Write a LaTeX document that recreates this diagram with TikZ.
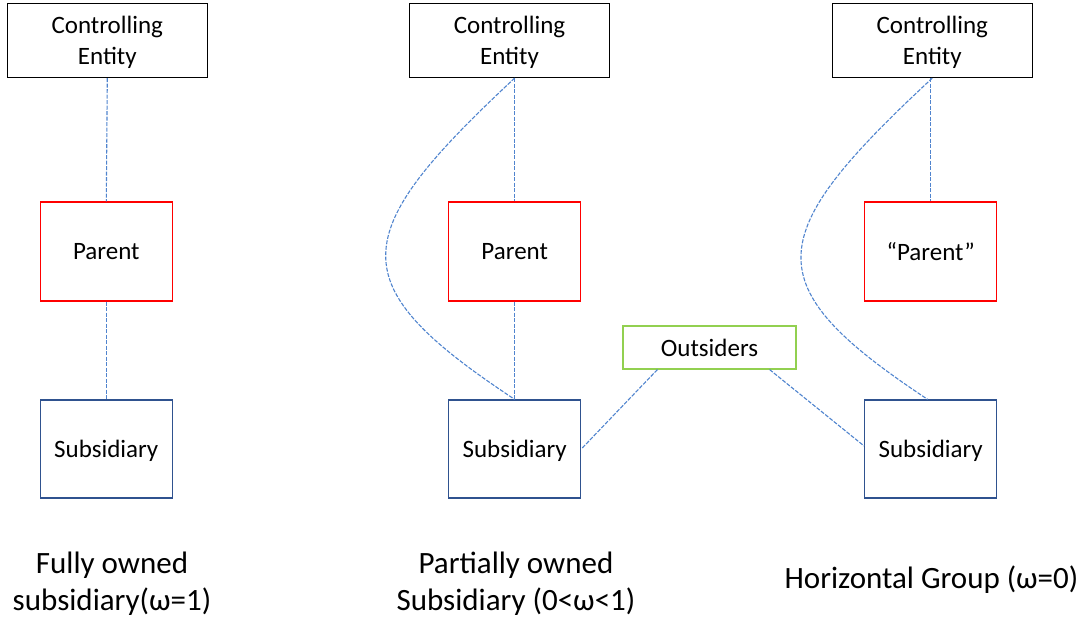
\documentclass[tikz,border=0pt]{standalone}
\usepackage{fontspec}
\setmainfont{Carlito}
\definecolor{linkblue}{RGB}{80,132,206}
\definecolor{subblue}{RGB}{47,82,143}
\definecolor{outgreen}{RGB}{146,208,80}
\begin{document}
\begin{tikzpicture}[x=1pt, y=-1pt,
    entity/.style={draw=black, line width=1.2pt, minimum width=200pt, minimum height=74pt, align=center, text depth=0pt, font=\fontsize{25}{31}\selectfont},
    parentbox/.style={draw=red, line width=1.2pt, minimum width=132pt, minimum height=99pt, text depth=0pt, font=\fontsize{25}{31}\selectfont},
    subbox/.style={draw=subblue, line width=1.2pt, minimum width=132pt, minimum height=98pt, text depth=0pt, font=\fontsize{25}{31}\selectfont},
    outbox/.style={draw=outgreen, line width=1.2pt, minimum width=173pt, minimum height=43pt, text depth=0pt, font=\fontsize{25}{31}\selectfont},
    link/.style={draw=linkblue, line width=1.1pt, dash pattern=on 4pt off 1.5pt},
    caption/.style={align=center, inner sep=0pt, font=\fontsize{31}{37}\selectfont}]
            \useasboundingbox (0, 0) rectangle (1088, 617);
            %\draw[lightgray] (0, 0) grid[step=50] (1088, 617);
            % fully owned
            \node[entity] (ce-left) at (107.3, 40.5) {Controlling\\Entity};
            \node[parentbox] (parent-left) at (106.3, 251.5) {Parent};
            \node[subbox] (sub-left) at (106.3, 449) {Subsidiary};
            % partially owned
            \node[entity] (ce-mid) at (509.5, 40.5) {Controlling\\Entity};
            \node[parentbox] (parent-mid) at (514.7, 251.5) {Parent};
            \node[subbox] (sub-mid) at (514.7, 449) {Subsidiary};
            % outsiders
            \node[outbox] (outsiders) at (709.5, 347.5) {Outsiders};
            % horizontal group
            \node[entity] (ce-right) at (932.3, 40.5) {Controlling\\Entity};
            \node[parentbox] (parent-right) at (930.7, 251.5) {“Parent”};
            \node[subbox] (sub-right) at (930.7, 449) {Subsidiary};
            % captions
            \node[caption] (cap-left) at (112, 584) {Fully owned\\subsidiary(ω=1)};
            \node[caption] (cap-mid) at (516, 584) {Partially owned\\Subsidiary (0<ω<1)};
            \node[caption, anchor=base] (cap-right) at (931.5, 589) {Horizontal Group (ω=0)};
            % links
            \coordinate (top-mid) at (parent-mid.north |- ce-mid.south);
            \coordinate (top-right) at (parent-right.north |- ce-right.south);
            \draw[link] (ce-left.south) -- (parent-left.north);
            \draw[link] (parent-left.south) -- (sub-left.north);
            \draw[link] (top-mid) -- (parent-mid.north);
            \draw[link] (parent-mid.south) -- (sub-mid.north);
            \draw[link] (top-mid) .. controls +(-170, 158) and +(-174, -115) .. (sub-mid.north);
            \draw[link] (top-right) -- (parent-right.north);
            \draw[link] (ce-right.south) .. controls +(-170, 158) and +(-174, -115) .. ([xshift=-3pt]sub-right.north);
            \draw[link] ([xshift=35pt]outsiders.south west) -- (sub-mid.east);
            \draw[link] ([xshift=-27pt]outsiders.south east) -- ([yshift=3pt]sub-right.west);
        \end{tikzpicture}
\end{document}
